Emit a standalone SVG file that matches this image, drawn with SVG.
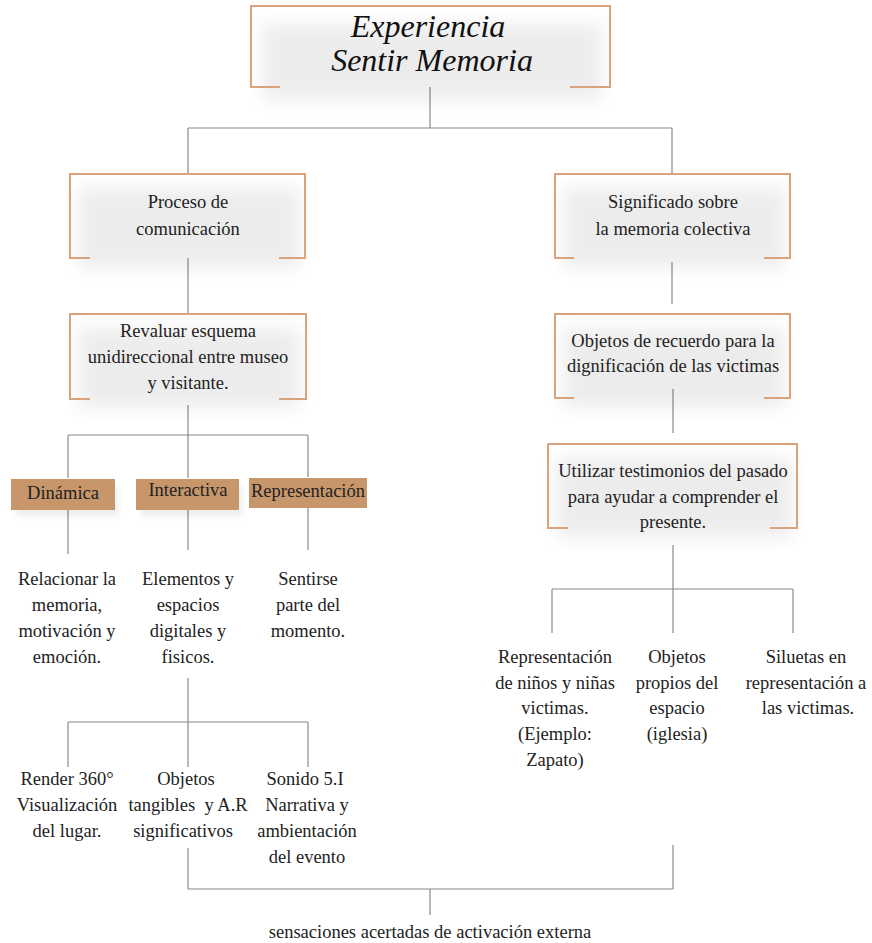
<svg xmlns="http://www.w3.org/2000/svg" width="872" height="943" viewBox="0 0 872 943">
<style>
.bg{fill:#ffffff}
.frame{fill:none;stroke:#d9a47b;stroke-width:2}
.t{font-family:"Liberation Serif","Times New Roman",serif;font-size:18.5px;fill:#222;text-anchor:middle}
.title{font-family:"Liberation Serif","Times New Roman",serif;font-style:italic;font-size:32px;fill:#111;text-anchor:middle}
.c{fill:none;stroke:#8a8a8a;stroke-width:1.2}
.tag{fill:#c8966b}
.sh{fill:#000;opacity:0.07}
</style>
<defs>
<filter id="blur" x="-30%" y="-30%" width="160%" height="160%"><feGaussianBlur stdDeviation="9"/></filter>
<filter id="blur2" x="-30%" y="-50%" width="160%" height="200%"><feGaussianBlur stdDeviation="3"/></filter>
</defs>
<rect class="bg" x="0" y="0" width="872" height="943"/>

<g id="connectors">
<path class="c" d="M430 87V128M188 128H672M188 128V174M672 128V174"/>
<path class="c" d="M188 258V314M672 262V304"/>
<path class="c" d="M188 405V435M68 435H308M68 435V478M188 435V478M308 435V477"/>
<path class="c" d="M68 510V554M188 507V550M308 507V550"/>
<path class="c" d="M188 678V767M68 722H308M68 722V767M308 722V767"/>
<path class="c" d="M188 848V889M673 845V889M188 889H673M430 889V915"/>
<path class="c" d="M673 389V433"/>
<path class="c" d="M673 545V633M552 589H793M552 589V633M793 589V633"/>
</g>

<g id="title">
<rect class="sh" x="262" y="24" width="340" height="76" filter="url(#blur)"/>
<path class="frame" d="M280 87H251V6H610V87H570"/>
<text class="title" x="428" y="37">Experiencia</text>
<text class="title" x="432" y="71">Sentir Memoria</text>
</g>

<g id="proceso">
<rect class="sh" x="78" y="188" width="222" height="80" filter="url(#blur)"/>
<path class="frame" d="M90 258H70V174H305V258H279"/>
<text class="t" x="188" y="208">Proceso de</text>
<text class="t" x="188" y="235">comunicación</text>
</g>

<g id="significado">
<rect class="sh" x="563" y="188" width="222" height="80" filter="url(#blur)"/>
<path class="frame" d="M574 258H555V174H790V258H764"/>
<text class="t" x="673" y="208">Significado sobre</text>
<text class="t" x="673" y="235">la memoria colectiva</text>
</g>

<g id="revaluar">
<rect class="sh" x="78" y="328" width="222" height="80" filter="url(#blur)"/>
<path class="frame" d="M90 399H70V314H306V399H279"/>
<text class="t" x="188" y="337">Revaluar esquema</text>
<text class="t" x="188" y="363">unidireccional entre museo</text>
<text class="t" x="188" y="389">y visitante.</text>
</g>

<g id="objetos-recuerdo">
<rect class="sh" x="563" y="328" width="222" height="80" filter="url(#blur)"/>
<path class="frame" d="M574 398H555V314H790V398H764"/>
<text class="t" x="673" y="347">Objetos de recuerdo para la</text>
<text class="t" x="673" y="372">dignificación de las victimas</text>
</g>

<g id="utilizar">
<rect class="sh" x="556" y="458" width="236" height="80" filter="url(#blur)"/>
<path class="frame" d="M568 528H548V444H797V528H770"/>
<text class="t" x="673" y="477">Utilizar testimonios del pasado</text>
<text class="t" x="673" y="503">para ayudar a comprender el</text>
<text class="t" x="673" y="528">presente.</text>
</g>

<g id="dinamica">
<rect class="sh" x="16" y="486" width="102" height="30" filter="url(#blur2)"/>
<rect class="tag" x="11" y="479" width="104" height="31"/>
<text class="t" x="63" y="499">Dinámica</text>
</g>
<g id="interactiva">
<rect class="sh" x="141" y="486" width="101" height="30" filter="url(#blur2)"/>
<rect class="tag" x="136" y="479" width="103" height="31"/>
<text class="t" x="188" y="496">Interactiva</text>
</g>
<g id="representacion">
<rect class="tag" x="249" y="478" width="118" height="30"/>
<text class="t" x="308" y="497">Representación</text>
</g>

<g id="relacionar">
<text class="t" x="67" y="585">Relacionar la</text>
<text class="t" x="67" y="611">memoria,</text>
<text class="t" x="67" y="637">motivación y</text>
<text class="t" x="67" y="663">emoción.</text>
</g>
<g id="elementos">
<text class="t" x="188" y="585">Elementos y</text>
<text class="t" x="188" y="611">espacios</text>
<text class="t" x="188" y="637">digitales y</text>
<text class="t" x="188" y="663">fisicos.</text>
</g>
<g id="sentirse">
<text class="t" x="308" y="585">Sentirse</text>
<text class="t" x="308" y="611">parte del</text>
<text class="t" x="308" y="637">momento.</text>
</g>

<g id="render">
<text class="t" x="67" y="785">Render 360°</text>
<text class="t" x="67" y="811">Visualización</text>
<text class="t" x="67" y="837">del lugar.</text>
</g>
<g id="objetos-tangibles">
<text class="t" x="186" y="785">Objetos</text>
<text class="t" x="188" y="811" xml:space="preserve">tangibles  y A.R</text>
<text class="t" x="183" y="837">significativos</text>
</g>
<g id="sonido">
<text class="t" x="305" y="785">Sonido 5.I</text>
<text class="t" x="307" y="811">Narrativa y</text>
<text class="t" x="307" y="837">ambientación</text>
<text class="t" x="307" y="863">del evento</text>
</g>

<g id="representacion-ninos">
<text class="t" x="555" y="663">Representación</text>
<text class="t" x="555" y="689">de niños y niñas</text>
<text class="t" x="555" y="714">victimas.</text>
<text class="t" x="555" y="740">(Ejemplo:</text>
<text class="t" x="555" y="766">Zapato)</text>
</g>
<g id="objetos-propios">
<text class="t" x="677" y="663">Objetos</text>
<text class="t" x="677" y="689">propios del</text>
<text class="t" x="677" y="714">espacio</text>
<text class="t" x="677" y="740">(iglesia)</text>
</g>
<g id="siluetas">
<text class="t" x="806" y="663">Siluetas en</text>
<text class="t" x="806" y="689">representación a</text>
<text class="t" x="808" y="714">las victimas.</text>
</g>

<g id="sensaciones">
<text class="t" x="430" y="938">sensaciones acertadas de activación externa</text>
</g>
</svg>
